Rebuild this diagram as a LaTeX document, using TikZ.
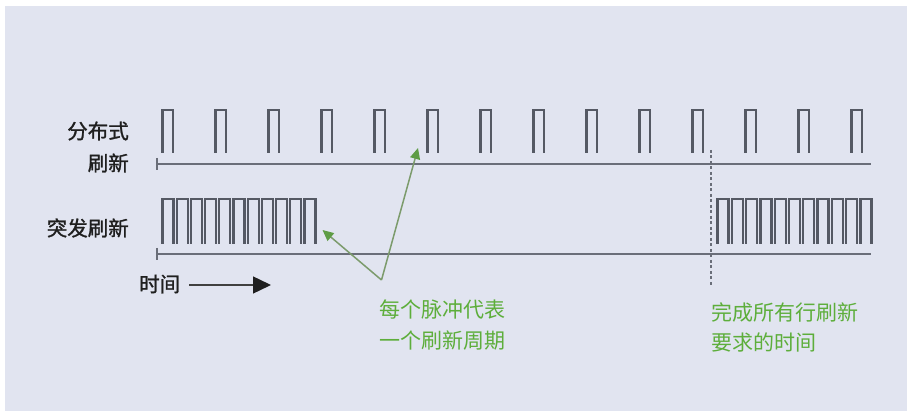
\documentclass[tikz,border=0pt]{standalone}
\usepackage{fontspec}
\newfontfamily\cjk{Noto Sans CJK SC}
\newfontfamily\cjkb[FakeBold=1.2]{Noto Sans CJK SC}
\usetikzlibrary{arrows.meta}
\definecolor{bgc}{HTML}{E1E4F0}
\definecolor{pulsec}{HTML}{555964}
\definecolor{basec}{HTML}{6A6E79}
\definecolor{txtgreen}{HTML}{5DAE3B}
\definecolor{arrgreen}{HTML}{7C9B6C}
\definecolor{headgreen}{HTML}{5E9C45}
\tikzset{
  blabel/.style={font=\cjkb\fontsize{20.5}{20.5}\selectfont, text=black!88, inner sep=0pt, anchor=east},
  glabel/.style={font=\cjk\fontsize{21}{21}\selectfont, text=txtgreen, inner sep=0pt, anchor=west},
  pulseline/.style={draw=pulsec, line width=2.3pt, line join=miter},
  baseline/.style={draw=basec, line width=1.6pt},
  pointer/.style={draw=arrgreen, line width=1.5pt, -{Triangle[length=11pt,width=10pt,fill=headgreen,color=headgreen]}},
}
\begin{document}
\begin{tikzpicture}[x=1pt,y=-1pt]
\useasboundingbox (0,0) rectangle (907,411);
\fill[white] (0,0) rectangle (907,411);
\fill[bgc] (5,6) rectangle (907,411);

% labels
\node[blabel] (dist1) at (129,131) {分布式};
\node[blabel] (dist2) at (129,163) {刷新};
\node[blabel] (burst) at (129,228) {突发刷新};
\node[blabel, anchor=west] (time) at (139,284) {时间};

% baselines
\coordinate (b1s) at (157,164); \coordinate (b1e) at (871,164);
\coordinate (b2s) at (157,254); \coordinate (b2e) at (871,254);
\draw[baseline] (b1s) -- (b1e);
\draw[baseline] (b2s) -- (b2e);
\draw[baseline] (157,158) -- (157,170);
\draw[baseline] (157,248) -- (157,260);

% distributed pulses
\foreach \k in {0,...,13}{
  \draw[pulseline] ({162.5+53*\k},153) -- ({162.5+53*\k},110) -- ({173+53*\k},110) -- ({173+53*\k},153);
}
% burst pulses
\foreach \k in {0,...,10}{
  \draw[pulseline] ({162.5+14.2*\k},244) -- ({162.5+14.2*\k},199) -- ({173.5+14.2*\k},199) -- ({173.5+14.2*\k},244);
  \draw[pulseline] ({717.5+14.3*\k},244) -- ({717.5+14.3*\k},199) -- ({728.5+14.3*\k},199) -- ({728.5+14.3*\k},244);
}

% dashed marker
\coordinate (dtop) at (711,150);
\coordinate (dbot) at (711,285);
\draw[draw=basec, line width=1.3pt, dash pattern=on 3pt off 2.5pt] (dtop) -- (dbot);

% time arrow
\coordinate (tas) at (189,285);
\coordinate (tae) at (271,285);
\draw[draw=black!75, line width=1.4pt, -{Triangle[length=18pt,width=17pt,fill=black!88,color=black!88]}] (tas) -- (tae);

% green pointers
\coordinate (vert) at (381.5,280);
\coordinate (tip1) at (418,148);
\coordinate (tip2) at (322.5,230);
\draw[pointer] (vert) -- (tip1);
\draw[pointer] (vert) -- (tip2);

% green notes
\node[glabel] (note1a) at (379,309) {每个脉冲代表};
\node[glabel] (note1b) at (379,341) {一个刷新周期};
\node[glabel] (note2a) at (711,312) {完成所有行刷新};
\node[glabel] (note2b) at (711,342) {要求的时间};
\end{tikzpicture}
\end{document}
